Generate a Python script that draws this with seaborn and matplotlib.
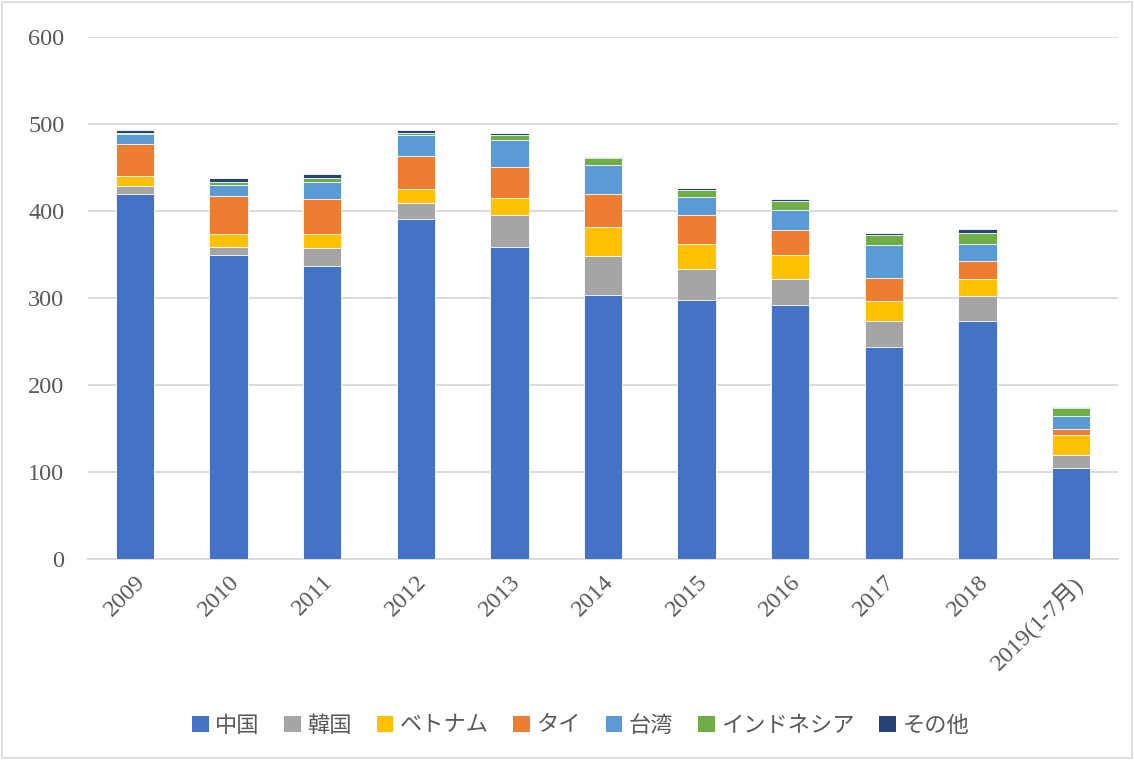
import matplotlib
matplotlib.use("Agg")
import matplotlib.pyplot as plt
import seaborn as sns
import numpy as np
import pandas as pd
from matplotlib.patches import Rectangle, Patch

years = ["2009", "2010", "2011", "2012", "2013", "2014", "2015", "2016", "2017", "2018", "2019(1-7月)"]
series_names = ["中国", "韓国", "ベトナム", "タイ", "台湾", "インドネシア", "その他"]
china     = [420, 349, 337, 391, 359, 304, 298, 292, 244, 274, 105]
korea     = [9, 10, 21, 18, 36, 44, 35, 30, 29, 28, 15]
vietnam   = [11, 14, 16, 16, 20, 34, 29, 27, 23, 20, 23]
thai      = [37, 44, 40, 38, 36, 37, 33, 29, 27, 20, 6]
taiwan    = [11, 13, 19, 24, 31, 34, 21, 23, 38, 20, 15]
indonesia = [2, 3, 5, 3, 5, 8, 8, 10, 11, 13, 10]
other     = [3, 5, 5, 3, 3, 1, 2, 3, 3, 4, 1]
colors = ["#4472C4", "#A5A5A5", "#FFC000", "#ED7D31", "#5B9BD5", "#70AD47", "#264478"]

sns.set_theme(style="white")
plt.rcParams['font.family'] = ['Liberation Serif', 'Noto Sans CJK JP', 'DejaVu Sans']

fig = plt.figure(figsize=(11.34, 7.6), dpi=100)
ax = fig.add_axes([88/1134, 1-559/760, 1030/1134, 522/760])

values = [china, korea, vietnam, thai, taiwan, indonesia, other]
cum = np.cumsum(np.array(values), axis=0)
for i in range(len(series_names) - 1, -1, -1):
    df = pd.DataFrame({"year": years, "v": cum[i]})
    sns.barplot(data=df, x="year", y="v", color=colors[i], width=0.41,
                saturation=1, ax=ax, edgecolor="white", linewidth=0.6, zorder=3)

ax.set_ylim(0, 600)
ax.set_xlim(-0.5, len(years) - 0.5)
ax.set_yticks(range(0, 601, 100))
ax.yaxis.grid(True, color="#D9D9D9", linewidth=1.3, zorder=0)
ax.set_axisbelow(True)
for s in ["top", "right", "left"]:
    ax.spines[s].set_visible(False)
ax.spines["bottom"].set_color("#D9D9D9")
ax.spines["bottom"].set_linewidth(1.3)
ax.set_xlabel("")
ax.set_ylabel("")
ax.tick_params(axis="both", length=0, colors="#595959", labelsize=17.5)
ax.tick_params(axis="y", pad=17)
ax.set_xticks(range(len(years)))
ax.set_xticklabels(years, rotation=45, ha="right", rotation_mode="anchor")
ax.tick_params(axis="x", pad=9)

handles = [Patch(facecolor=c, edgecolor="none") for c in colors]
fig.legend(handles, series_names, loc="center", bbox_to_anchor=(0.512, 0.046), ncol=7,
           frameon=False, handlelength=0.75, handleheight=0.75,
           handletextpad=0.3, columnspacing=1.1, labelcolor="#595959",
           prop={'family': ['Noto Sans CJK JP', 'DejaVu Sans'], 'size': 16})

fig.patches.append(Rectangle((0.002, 0.002), 0.996, 0.996, transform=fig.transFigure,
                             fill=False, edgecolor="#D9D9D9", linewidth=1.2))

fig.savefig("out.png", dpi=100)
